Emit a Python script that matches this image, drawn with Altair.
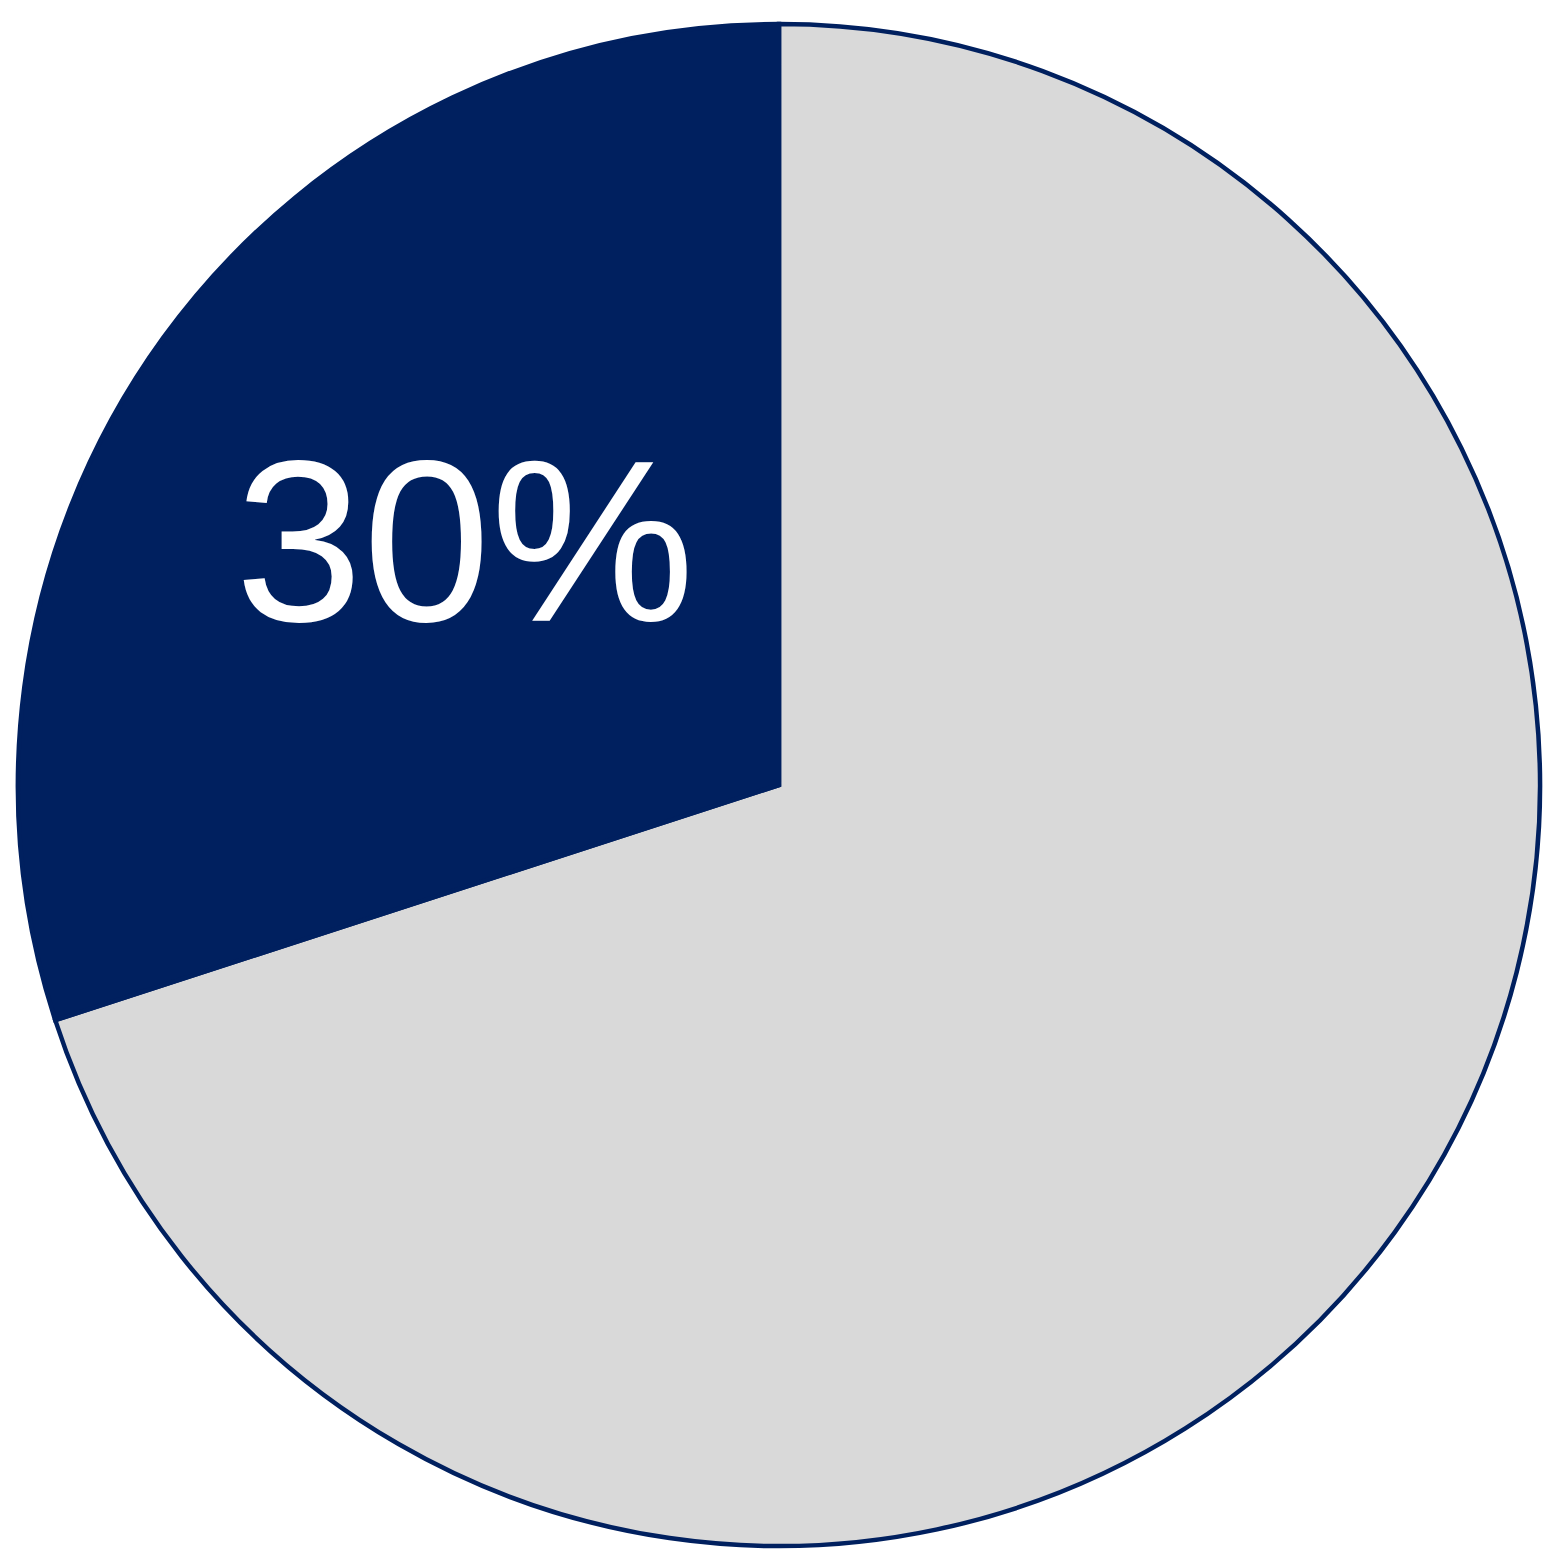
import altair as alt
import pandas as pd

# slice data
categories = ["Other", "Share"]
values = [70, 30]
labels = ["", "30%"]
colors = ["#D9D9D9", "#00205F"]

df = pd.DataFrame({"category": categories, "value": values, "label": labels, "rank": [0, 1]})

base = alt.Chart(df).encode(
    theta=alt.Theta("value:Q", stack=True),
    order=alt.Order("rank:Q"),
)

pie = base.mark_arc(
    radius=762, stroke="#00205F", strokeWidth=4.5, strokeJoin="miter"
).encode(
    color=alt.Color("category:N", scale=alt.Scale(domain=categories, range=colors), legend=None),
)

text = base.mark_text(
    radius=400, dx=9, dy=2, font="Liberation Sans", fontSize=230, color="white",
    align="center", baseline="middle",
).encode(text="label:N")

chart = alt.layer(pie, text).properties(
    width=1544, height=1554, padding=0, autosize=alt.AutoSizeParams(type="none")
).configure_view(stroke=None)

chart.save("out.html", embed_options={"renderer": "svg", "actions": False})
